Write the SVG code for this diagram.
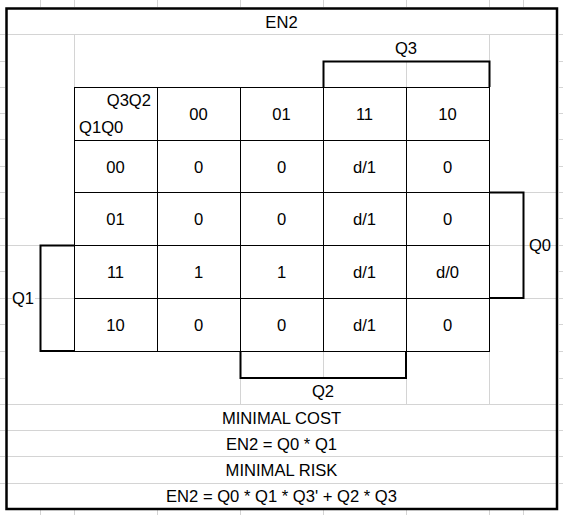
<svg xmlns="http://www.w3.org/2000/svg" width="563" height="515" viewBox="0 0 563 515">
<style>
.g{stroke:#d4d4d4;stroke-width:1;fill:none}
.t{stroke:#000;stroke-width:1;fill:none}
.b{stroke:#000;stroke-width:2;fill:none}
.o{stroke:#000;stroke-width:2.5;fill:none}
text{font-family:"Liberation Sans",Arial,sans-serif;font-size:16.6px;fill:#000;text-anchor:middle}
.r{text-anchor:end}
.l{text-anchor:start}
</style>
<rect width="563" height="515" fill="#fff"/>
<g id="gridlines" class="g">
<path d="M40.5,0V7M74.5,0V7M157.5,0V7M240.5,0V7M323.5,0V7M406.5,0V7M489.5,0V7M523.5,0V7"/>
<path d="M40.5,510V515M74.5,510V515M157.5,510V515M240.5,510V515M323.5,510V515M406.5,510V515M489.5,510V515M523.5,510V515"/>
<path d="M0,34.5H5M0,61.5H5M0,87.5H5M0,113.5H5M0,139.5H5M0,166.5H5M0,192.5H5M0,218.5H5M0,245.5H5M0,271.5H5M0,298.5H5M0,324.5H5M0,351.5H5M0,378.5H5M0,404.5H5M0,430.5H5M0,456.5H5M0,483.5H5"/>
<path d="M559,34.5H563M559,61.5H563M559,87.5H563M559,113.5H563M559,139.5H563M559,166.5H563M559,192.5H563M559,218.5H563M559,245.5H563M559,271.5H563M559,298.5H563M559,324.5H563M559,351.5H563M559,378.5H563M559,404.5H563M559,430.5H563M559,456.5H563M559,483.5H563"/>
<path d="M6,34.5H557M74.5,34V87M406.5,61V87M489.5,34V61"/>
<path d="M6,245.5H40M6,298.5H12M35,298.5H74"/>
<path d="M523,192.5H557M489,245.5H557M523,298.5H557"/>
<path d="M240.5,378V404M323.5,351V378M406.5,378V404M489.5,351V404"/>
<path d="M6,404.5H557M6,430.5H557M6,456.5H557M6,483.5H557"/>
</g>
<g id="kmap-table" class="t">
<rect x="74.5" y="87.5" width="415" height="264"/>
<path d="M157.5,87V351M240.5,87V351M323.5,87V351M406.5,87V351"/>
<path d="M74,140.5H489M74,192.5H489M74,245.5H489M74,298.5H489"/>
</g>
<g id="connectors" class="b">
<path id="bracket-q3" d="M323.5,87V61.5H489.5V87"/>
<path id="bracket-q0" d="M489,192.5H523.5V298H489"/>
<path id="bracket-q1" d="M74,245.5H40.5V351H74"/>
<path id="bracket-q2" d="M240.5,351V378H406V351"/>
</g>
<rect id="frame" class="o" x="6.5" y="8.5" width="550.5" height="500.5"/>
<g id="title"><text x="281.5" y="28">EN2</text></g>
<g id="label-q3"><text x="406" y="54">Q3</text></g>
<g id="label-q0"><text x="540" y="251">Q0</text></g>
<g id="label-q1"><text x="23" y="304">Q1</text></g>
<g id="label-q2"><text x="323" y="397">Q2</text></g>
<g id="header">
<text class="r" x="151" y="106">Q3Q2</text>
<text class="l" x="79" y="133">Q1Q0</text>
<text x="198.5" y="120">00</text>
<text x="281.5" y="120">01</text>
<text x="364.5" y="120">11</text>
<text x="447.5" y="120">10</text>
</g>
<g id="row-00">
<text x="115.5" y="172.5">00</text>
<text x="198.5" y="172.5">0</text>
<text x="281.5" y="172.5">0</text>
<text x="364.5" y="172.5">d/1</text>
<text x="447.5" y="172.5">0</text>
</g>
<g id="row-01">
<text x="115.5" y="225">01</text>
<text x="198.5" y="225">0</text>
<text x="281.5" y="225">0</text>
<text x="364.5" y="225">d/1</text>
<text x="447.5" y="225">0</text>
</g>
<g id="row-11">
<text x="115.5" y="278">11</text>
<text x="198.5" y="278">1</text>
<text x="281.5" y="278">1</text>
<text x="364.5" y="278">d/1</text>
<text x="447.5" y="278">d/0</text>
</g>
<g id="row-10">
<text x="115.5" y="331">10</text>
<text x="198.5" y="331">0</text>
<text x="281.5" y="331">0</text>
<text x="364.5" y="331">d/1</text>
<text x="447.5" y="331">0</text>
</g>
<g id="results">
<text x="281.5" y="424">MINIMAL COST</text>
<text x="281.5" y="450">EN2 = Q0 * Q1</text>
<text x="281.5" y="476">MINIMAL RISK</text>
<text x="281.5" y="502">EN2 = Q0 * Q1 * Q3' + Q2 * Q3</text>
</g>
</svg>
